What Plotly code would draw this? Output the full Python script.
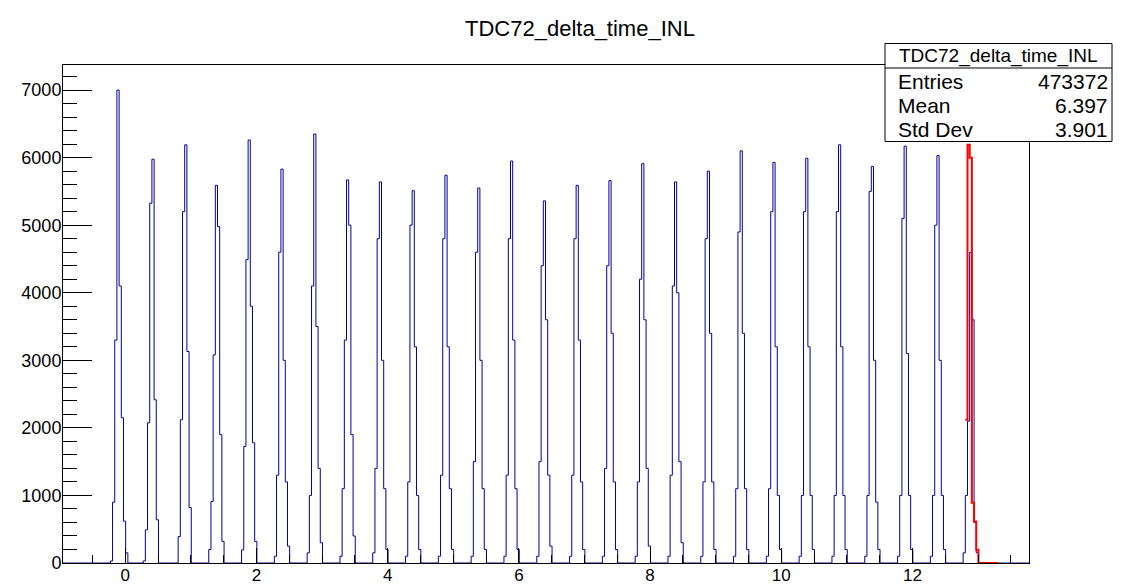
import numpy as np
import plotly.graph_objects as go

# ---------------- data ----------------
title_text = "TDC72_delta_time_INL"
hist_xmin = -0.9613          # low edge of bin 0
bin_width = 1.0 / 30.0
n_bins = 442
period_bins = 15             # bins between successive peaks
first_peak_bin = 22          # bin index where first peak's bin list starts

# bin contents of each blue peak (8 consecutive bins each)
blue_peaks = [
    [30, 900, 3300, 7000, 4100, 2150, 620, 150],
    [30, 490, 2075, 5325, 5976, 2416, 640, 0],
    [0, 390, 2120, 5200, 6190, 3130, 820, 0],
    [200, 910, 3080, 5590, 4980, 1900, 320, 0],
    [195, 1725, 4490, 6260, 3800, 1780, 320, 0],
    [100, 1300, 4600, 5830, 3000, 1200, 250, 0],
    [150, 1000, 4100, 6350, 3500, 1400, 300, 0],
    [100, 1100, 3300, 5670, 5000, 1900, 400, 0],
    [150, 1400, 4800, 5640, 3000, 1100, 200, 0],
    [100, 1200, 5000, 5510, 3200, 1000, 200, 0],
    [100, 1300, 4800, 5740, 3200, 1100, 200, 0],
    [100, 1500, 4600, 5550, 3000, 1100, 200, 0],
    [100, 1300, 4800, 5950, 3300, 1100, 200, 0],
    [100, 1500, 4400, 5360, 3600, 1300, 250, 0],
    [100, 1300, 4800, 5590, 3300, 1200, 200, 0],
    [100, 1400, 4400, 5660, 3400, 1200, 200, 0],
    [100, 1200, 4200, 5910, 3600, 1400, 250, 0],
    [100, 1300, 4100, 5640, 4000, 1500, 300, 0],
    [100, 1200, 4800, 5800, 3400, 1200, 200, 0],
    [100, 1100, 4900, 6100, 3400, 1100, 200, 0],
    [100, 1100, 5200, 5930, 3200, 1000, 200, 0],
    [100, 1000, 5200, 5990, 3200, 1000, 200, 0],
    [100, 1000, 5200, 6190, 3200, 1000, 200, 0],
    [100, 1000, 5500, 5870, 3000, 900, 200, 0],
    [100, 1000, 5100, 6170, 3100, 1000, 200, 0],
    [100, 1000, 5000, 6030, 3000, 1000, 200, 0],
    [150, 1000, 2100, 4600, 3600, 600, 150, 0],
]

# red overlay histogram (last period)
red_start_bin = 413
red_counts = [2120, 6190, 6000, 890, 615, 197, 0, 0, 0, 0, 0, 0, 0, 0, 0]

stats_labels = ["Entries", "Mean", "Std Dev"]
stats_values = ["473372", "6.397", "3.901"]

x_range = [-0.95, 13.776]
y_range = [0, 7371]
x_tickvals = [0, 2, 4, 6, 8, 10, 12]

# ---------------- build histograms ----------------
blue_counts = np.zeros(n_bins)
for k, peak in enumerate(blue_peaks):
    s = first_peak_bin + k * period_bins
    for j, v in enumerate(peak):
        if 0 <= s + j < n_bins:
            blue_counts[s + j] = v

edges = hist_xmin + bin_width * np.arange(n_bins + 1)
bx = edges
by = np.append(blue_counts, blue_counts[-1])

red_edges = hist_xmin + bin_width * np.arange(red_start_bin, red_start_bin + len(red_counts) + 1)
ry = red_counts + [red_counts[-1]]

FONT = "Liberation Sans, Arial, Helvetica, sans-serif"

fig = go.Figure()
fig.add_trace(go.Scatter(x=bx, y=by, mode="lines", line=dict(color="#000099", width=1, shape="hv"),
                         hoverinfo="skip", showlegend=False))
fig.add_trace(go.Scatter(x=red_edges, y=ry, mode="lines", line=dict(color="#ff0000", width=2, shape="hv"),
                         hoverinfo="skip", showlegend=False))

# page has an 8px body margin: figure is 8px smaller, all page coords shifted by 8
OFF = 8
W, H = 1128 - OFF, 587 - OFF
L, R, T, B = 63 - OFF, 99, 65 - OFF, 24
pw, ph = W - L - R, H - T - B


def px2paper_x(px):      # px in page (reference) coordinates
    return (px - OFF - L) / pw


def px2paper_y(py):
    return (H - B - (py - OFF)) / ph


fig.update_layout(
    width=W, height=H,
    margin=dict(l=L, r=R, t=T, b=B, autoexpand=False),
    paper_bgcolor="white", plot_bgcolor="white",
    font=dict(family=FONT, color="black", size=18),
    showlegend=False,
)

fig.update_xaxes(
    range=x_range, showgrid=False, zeroline=False,
    showline=True, linecolor="black", linewidth=1, mirror=True,
    tickmode="array", tickvals=x_tickvals,
    ticks="inside", ticklen=15, tickcolor="black", tickwidth=1,
    minor=dict(dtick=0.5, tick0=0, ticks="inside", ticklen=8, tickcolor="black", showgrid=False),
    tickfont=dict(family=FONT, size=17, color="black"),
    ticklabelstandoff=-3,
)
fig.update_yaxes(
    range=y_range, showgrid=False, zeroline=False,
    showline=True, linecolor="black", linewidth=1, mirror=True,
    dtick=1000, tick0=0,
    ticks="inside", ticklen=29, tickcolor="black", tickwidth=1,
    minor=dict(dtick=200, tick0=0, ticks="inside", ticklen=14, tickcolor="black", showgrid=False),
    tickfont=dict(family=FONT, size=18, color="black"),
    ticklabelstandoff=-3,
)

# Title
fig.add_annotation(text=title_text, xref="paper", yref="paper",
                   x=px2paper_x(579.5), y=px2paper_y(29), xanchor="center", yanchor="middle",
                   showarrow=False, font=dict(family=FONT, size=22, color="black"))

# Stats box
bx0, bx1, by0, by1, bsep = 885, 1112, 43.5, 141.5, 68
fig.add_shape(type="rect", xref="paper", yref="paper",
              x0=px2paper_x(bx0), x1=px2paper_x(bx1), y0=px2paper_y(by1), y1=px2paper_y(by0),
              line=dict(color="black", width=1), fillcolor="white", layer="above")
fig.add_shape(type="line", xref="paper", yref="paper",
              x0=px2paper_x(bx0), x1=px2paper_x(bx1), y0=px2paper_y(bsep), y1=px2paper_y(bsep),
              line=dict(color="black", width=1), layer="above")
fig.add_annotation(text=title_text, xref="paper", yref="paper",
                   x=px2paper_x((bx0 + bx1) / 2), y=px2paper_y(56), xanchor="center", yanchor="middle",
                   showarrow=False, font=dict(family=FONT, size=19, color="black"))
row_y = [82, 105.5, 129.5]
for lab, val, yy in zip(stats_labels, stats_values, row_y):
    fig.add_annotation(text=lab, xref="paper", yref="paper", x=px2paper_x(896), y=px2paper_y(yy),
                       xanchor="left", yanchor="middle", showarrow=False,
                       font=dict(family=FONT, size=21, color="black"))
    fig.add_annotation(text=val, xref="paper", yref="paper", x=px2paper_x(1110), y=px2paper_y(yy),
                       xanchor="right", yanchor="middle", showarrow=False,
                       font=dict(family=FONT, size=21, color="black"))

fig.write_html("out.html")
